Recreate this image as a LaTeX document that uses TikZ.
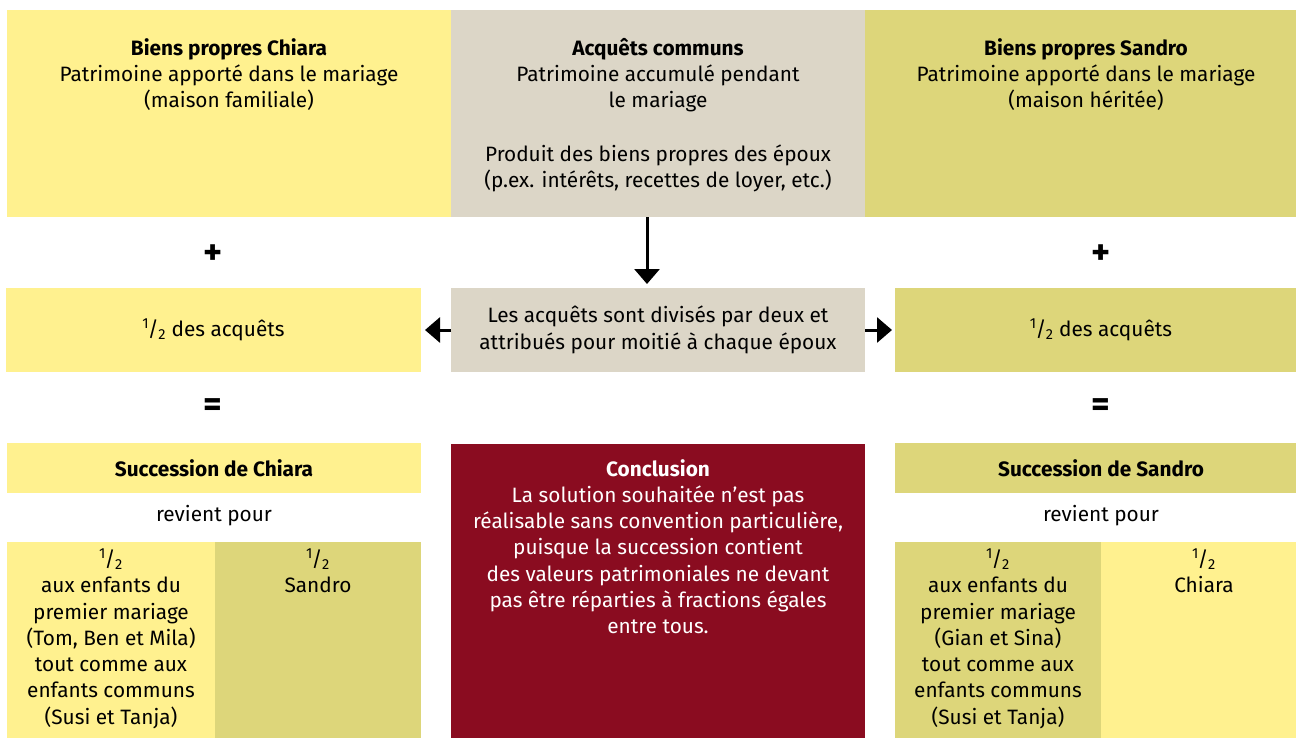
\documentclass[tikz,border=0pt]{standalone}
\usepackage{fontspec}
\setmainfont{Fira Sans}
\usetikzlibrary{arrows.meta}
\definecolor{cyel}{HTML}{FFF18F}
\definecolor{colive}{HTML}{DDD67A}
\definecolor{cbeige}{HTML}{DCD6C7}
\definecolor{cred}{HTML}{8A0C20}
\newcommand\halfsign{\textsuperscript{1}\kern-0.06em/\kern-0.02em\textsubscript{2}}
\begin{document}
\begin{tikzpicture}[x=1pt,y=-1pt,
  box/.style={draw=none, inner sep=0pt, outer sep=0pt, anchor=north west, align=center,
    font=\fontsize{20.8}{26.3}\selectfont},
  txt/.style={inner sep=0pt, align=center, font=\fontsize{20.8}{26.3}\selectfont},
  sym/.style={inner sep=0pt, font=\fontsize{36}{36}\selectfont\bfseries},
  arr/.style={line width=3pt, -{Triangle[length=15pt,width=25pt]}}]
\clip (0,0) rectangle (1296,737);
\fill[white] (0,0) rectangle (1296,737);
% top row
\node[box, fill=cyel, minimum width=444, minimum height=207] (tl) at (7,10) {};
\node[box, fill=cbeige, minimum width=414, minimum height=207] (tm) at (451,10) {};
\node[box, fill=colive, minimum width=442, minimum height=207] (tr) at (865,10) {};
\node[txt, anchor=north] (tlt) at (229,38) {\textbf{Biens propres Chiara}\\Patrimoine apporté dans le mariage\\(maison familiale)};
\node[txt, anchor=north] (tmt) at (658,38) {\textbf{Acquêts communs}\\Patrimoine accumulé pendant\\le mariage\\[27pt]Produit des biens propres des époux\\(p.ex. intérêts, recettes de loyer, etc.)};
\node[txt, anchor=north] (trt) at (1086,38) {\textbf{Biens propres Sandro}\\Patrimoine apporté dans le mariage\\(maison héritée)};
% plus
\node[sym] (p1) at (213,255) {+};
\node[sym] (p2) at (1101,255) {+};
% middle row
\node[box, fill=cyel, minimum width=415, minimum height=84] (ml) at (6,288) {\halfsign{} des acquêts};
\node[box, fill=cbeige, minimum width=414, minimum height=84] (mm) at (451,288) {Les acquêts sont divisés par deux et\\attribués pour moitié à chaque époux};
\node[box, fill=colive, minimum width=412, minimum height=84] (mr) at (895,288) {\halfsign{} des acquêts};
% equals
\node[sym] (e1) at (213,408) {=};
\node[sym] (e2) at (1101,408) {=};
% succession
\node[box, fill=cyel, minimum width=414, minimum height=50] (sl) at (7,443) {\textbf{Succession de Chiara}};
\node[box, fill=colive, minimum width=412, minimum height=50] (sr) at (895,443) {\textbf{Succession de Sandro}};
\node[txt] (rl) at (214,516) {revient pour};
\node[txt] (rr) at (1101,516) {revient pour};
% bottom split boxes
\node[box, fill=cyel, minimum width=208, minimum height=200] (bl1) at (7,542) {};
\node[box, fill=colive, minimum width=206, minimum height=200] (bl2) at (215,542) {};
\node[box, fill=colive, minimum width=206, minimum height=200] (br1) at (895,542) {};
\node[box, fill=cyel, minimum width=206, minimum height=200] (br2) at (1101,542) {};
\node[txt, anchor=north] (bl1t) at (111,549) {\halfsign\\aux enfants du\\premier mariage\\(Tom, Ben et Mila)\\tout comme aux\\enfants communs\\(Susi et Tanja)};
\node[txt, anchor=north] (bl2t) at (318,549) {\halfsign\\Sandro};
\node[txt, anchor=north] (br1t) at (998,549) {\halfsign\\aux enfants du\\premier mariage\\(Gian et Sina)\\tout comme aux\\enfants communs\\(Susi et Tanja)};
\node[txt, anchor=north] (br2t) at (1204,549) {\halfsign\\Chiara};
% conclusion
\node[box, fill=cred, minimum width=414, minimum height=300] (conc) at (451,444) {};
\node[txt, anchor=north, text=white] (conct) at (658,459) {\textbf{Conclusion}\\La solution souhaitée n’est pas\\réalisable sans convention particulière,\\puisque la succession contient\\des valeurs patrimoniales ne devant\\pas être réparties à fractions égales\\entre tous.};
% arrows
\draw[arr, shorten >=4pt] ([xshift=-11pt]tm.south) -- ([xshift=-11pt]mm.north);
\draw[arr, shorten >=4pt] (mm.west) -- (ml.east);
\draw[arr, shorten >=3pt] (mm.east) -- (mr.west);
\end{tikzpicture}
\end{document}
